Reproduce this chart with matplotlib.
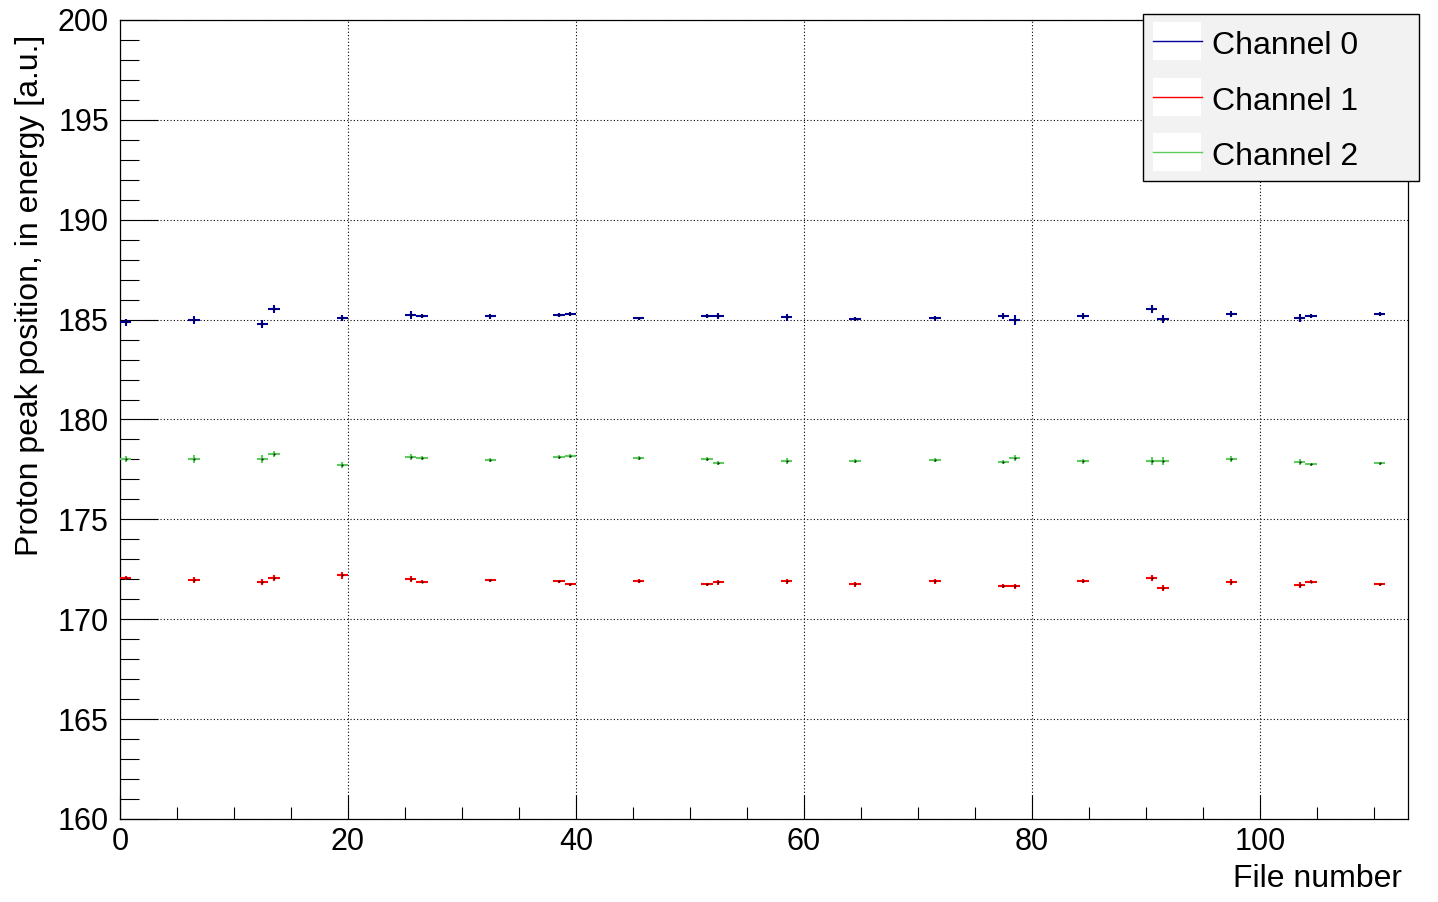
import numpy as np
import matplotlib
matplotlib.use("Agg")
import matplotlib.pyplot as plt
from matplotlib.patches import Rectangle
from matplotlib.lines import Line2D
from matplotlib.ticker import MultipleLocator

plt.rcParams['font.family'] = ['Liberation Sans', 'DejaVu Sans']

# -------------------------------
# Data
# -------------------------------
file_numbers = [0, 6, 12, 13, 19, 25, 26, 32, 38, 39, 45, 51, 52, 58, 64,
                71, 77, 78, 84, 90, 91, 97, 103, 104, 110]
bin_width = 1.0

ch0 = [184.87, 184.97, 184.77, 185.52, 185.07, 185.23, 185.17, 185.17, 185.22, 185.27,
       185.07, 185.18, 185.18, 185.12, 185.02, 185.07, 185.18, 184.97, 185.18, 185.53,
       185.02, 185.27, 185.07, 185.18, 185.28]
ch0_err = [0.17, 0.2, 0.2, 0.2, 0.15, 0.2, 0.1, 0.13, 0.1, 0.1, 0.08, 0.1, 0.15,
           0.17, 0.1, 0.12, 0.13, 0.25, 0.15, 0.2, 0.2, 0.15, 0.2, 0.1, 0.1]

ch1 = [172.05, 171.95, 171.87, 172.05, 172.2, 172.03, 171.87, 171.95, 171.9, 171.75,
       171.9, 171.75, 171.85, 171.9, 171.75, 171.9, 171.65, 171.65, 171.92, 172.05,
       171.55, 171.87, 171.7, 171.87, 171.75]
ch1_err = [0.1, 0.15, 0.15, 0.15, 0.17, 0.15, 0.07, 0.08, 0.08, 0.07, 0.1, 0.08, 0.12,
           0.13, 0.13, 0.12, 0.1, 0.12, 0.1, 0.15, 0.15, 0.15, 0.15, 0.08, 0.08]

ch2 = [178.01, 178.01, 178.01, 178.26, 177.72, 178.12, 178.07, 177.96, 178.12, 178.17,
       178.06, 178.01, 177.81, 177.91, 177.91, 177.96, 177.86, 178.06, 177.91, 177.91,
       177.91, 178.01, 177.86, 177.76, 177.81]
ch2_err = [0.15, 0.2, 0.2, 0.15, 0.17, 0.17, 0.08, 0.1, 0.1, 0.1, 0.1, 0.1, 0.1,
           0.15, 0.1, 0.1, 0.1, 0.15, 0.13, 0.2, 0.2, 0.15, 0.15, 0.08, 0.08]

labels = ["Channel 0", "Channel 1", "Channel 2"]
colors = ["#000099", "#ff0000", "#5ccc5c"]

# -------------------------------
# Figure / axes
# -------------------------------
W, H = 1438, 902
fig = plt.figure(figsize=(W / 100, H / 100), dpi=100)
ax = fig.add_axes([120 / W, 1 - 819 / H, (1408 - 120) / W, (819 - 20) / H])

x = np.array(file_numbers) + bin_width / 2
series = [(ch0, ch0_err), (ch1, ch1_err), (ch2, ch2_err)]
for (vals, errs), col in zip(series, colors):
    ax.errorbar(x, vals, xerr=bin_width / 2, yerr=errs, fmt='.', color=col,
                ecolor=col, elinewidth=1.5, capsize=0, ms=1.0,
                mfc='black', mec='black', zorder=3)

ax.set_xlim(0, 113)
ax.set_ylim(160, 200)

ax.xaxis.set_major_locator(MultipleLocator(20))
ax.xaxis.set_minor_locator(MultipleLocator(5))
ax.yaxis.set_major_locator(MultipleLocator(5))
ax.yaxis.set_minor_locator(MultipleLocator(1))

ax.tick_params(axis='x', which='major', direction='in', length=17, width=0.8,
               labelsize=22, pad=6, top=False)
ax.tick_params(axis='x', which='minor', direction='in', length=8.5, width=0.8, top=False)
ax.tick_params(axis='y', which='major', direction='in', length=27, width=0.8,
               labelsize=22, pad=8, right=False)
ax.tick_params(axis='y', which='minor', direction='in', length=13.5, width=0.8, right=False)

for sp in ax.spines.values():
    sp.set_linewidth(0.9)

ax.grid(True, which='major', color='black', linestyle=(0, (1, 2)), linewidth=0.8)

ax.set_ylabel("Proton peak position, in energy [a.u.]", fontsize=23, loc='top')
ax.yaxis.set_label_coords((30 - 120) / 1288, (819 - 35) / 799)
ax.yaxis.label.set_verticalalignment('center')

ax.set_xlabel("File number", fontsize=23, loc='right')
ax.xaxis.set_label_coords((1402 - 120) / 1288, (819 - 879) / 799)
ax.xaxis.label.set_verticalalignment('center')

# -------------------------------
# ROOT-style legend box
# -------------------------------
def fx(px):
    return px / W

def fy(py):
    return 1 - py / H

fig.add_artist(Rectangle((fx(1143), fy(181)), fx(1419) - fx(1143), fy(14) - fy(181),
                         transform=fig.transFigure, facecolor='#f2f2f2',
                         edgecolor='black', linewidth=1.0, zorder=10))
row_top = [22, 78, 133]
for top, lab, col in zip(row_top, labels, colors):
    fig.add_artist(Rectangle((fx(1153), fy(top + 38)), fx(1201) - fx(1153), fy(top) - fy(top + 38),
                             transform=fig.transFigure, facecolor='white',
                             edgecolor='none', zorder=11))
    yc = top + 19
    fig.add_artist(Line2D([fx(1153), fx(1202)], [fy(yc), fy(yc)], transform=fig.transFigure,
                          color=col, linewidth=1.0, zorder=12))
    fig.text(fx(1212), fy(yc + 5), lab, fontsize=23, va='center', ha='left', zorder=12)

fig.savefig("out.png", dpi=100)
